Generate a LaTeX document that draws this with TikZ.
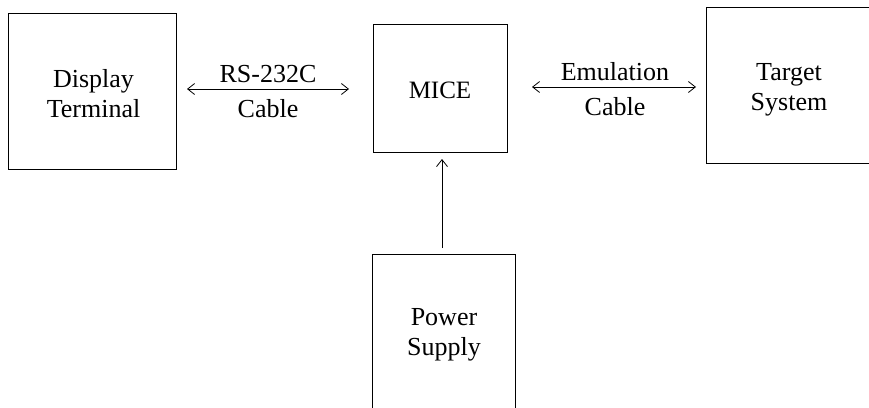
\documentclass[tikz,border=0pt]{standalone}
\usepackage{fontspec}
\setmainfont{Liberation Serif}
\usetikzlibrary{arrows.meta}
\begin{document}
\begin{tikzpicture}[x=1pt,y=-1pt,
  box/.style={draw, line width=0.9pt, inner sep=0pt},
  txt/.style={inner sep=0pt, align=center, text height=47pt, text depth=0pt,
    font=\fontsize{26}{30}\selectfont},
  txtone/.style={inner sep=0pt, text height=17pt, text depth=0pt,
    font=\fontsize{25}{30}\selectfont},
  lbl/.style={inner sep=0pt, anchor=base, font=\fontsize{26}{30}\selectfont},
  conn/.style={line width=0.8pt, {Straight Barb[length=7pt,width=11pt]}-{Straight Barb[length=7pt,width=11pt]}},
  uconn/.style={line width=0.8pt, -{Straight Barb[length=7pt,width=11pt]}}]
\useasboundingbox (0,0) rectangle (869,407);
\clip (0,0) rectangle (869,407);
\node[box, minimum width=168pt, minimum height=156pt] (disp) at (92,91) {};
\node[box, minimum width=134pt, minimum height=128pt] (mice) at (440,88) {};
\node[box, minimum width=172pt, minimum height=156pt] (target) at (792,85) {};
\node[box, minimum width=143pt, minimum height=155pt] (power) at (443.5,331.5) {};
\node[txt] (dispt) at (93.5,93.5) {Display\\Terminal};
\node[txtone] (micet) at (440,89.5) {MICE};
\node[txt] (targett) at (789,86.5) {Target\\System};
\node[txt] (powert) at (444,331.5) {Power\\Supply};
\coordinate (a1) at (187,89);
\coordinate (a2) at (349,89);
\coordinate (b1) at (532,87);
\coordinate (b2) at (696,87);
\coordinate (c1) at (442,248);
\coordinate (c2) at (442,159);
\draw[conn] (a1) -- (a2);
\draw[conn] (b1) -- (b2);
\draw[uconn] (c1) -- (c2);
\node[lbl] (rs) at (268,82) {RS-232C};
\node[lbl] (cab1) at (268,117) {Cable};
\node[lbl] (emu) at (615,80) {Emulation};
\node[lbl] (cab2) at (615,115) {Cable};
\end{tikzpicture}
\end{document}
